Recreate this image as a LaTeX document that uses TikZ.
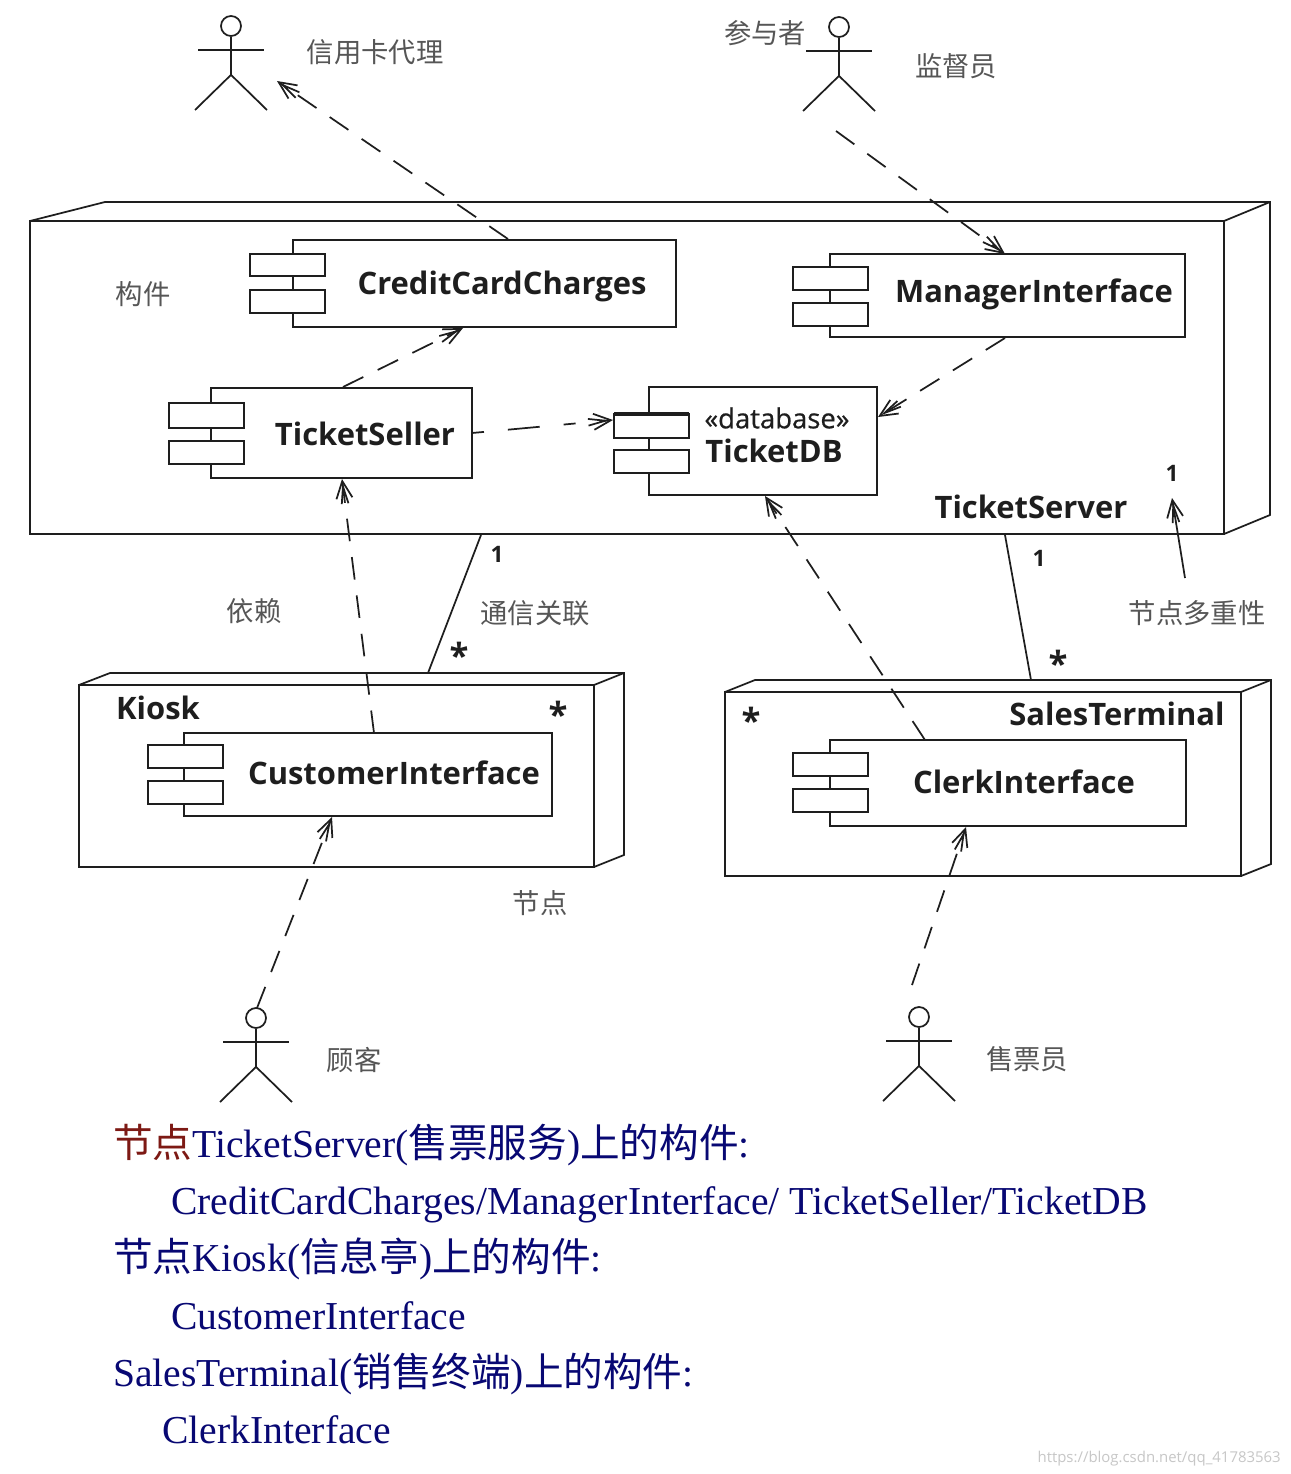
\documentclass[tikz,border=0pt]{standalone}
\usepackage{fontspec}
\setmainfont{Liberation Serif}
\setsansfont{Open Sans}
\newfontfamily\cjk{Noto Sans CJK SC}
\newfontfamily\stereofont[FakeBold=0.6]{Open Sans}
\usetikzlibrary{arrows.meta}
\definecolor{navy}{RGB}{8,8,115}
\definecolor{darkred}{RGB}{125,25,20}
\definecolor{ink}{RGB}{30,30,30}
\tikzset{
  x=0.75pt,y=-0.75pt,
  edge/.style={draw=ink,line width=1.3pt},
  comp/.style={draw=ink,line width=1.3pt,fill=white},
  barbs/.style={-{Straight Barb[length=13pt,width=5pt,sep=-13pt]Straight Barb[length=13pt,width=12pt]}},
  dep/.style={draw=ink,line width=1.3pt,dash pattern=on 17pt off 12pt,barbs},
  assoc/.style={draw=ink,line width=1.3pt},
  ann/.style={font=\cjk\fontsize{20.5}{23}\selectfont,text=ink!75,inner sep=0pt},
  title/.style={font=\sffamily\bfseries\fontsize{23.2}{26}\selectfont,text=ink,inner sep=0pt},
  stereo/.style={font=\stereofont\fontsize{20.6}{23}\selectfont,text=ink,inner sep=0pt},
  mult/.style={font=\sffamily\bfseries\fontsize{17}{19}\selectfont,text=ink,inner sep=0pt},
  star/.style={font=\sffamily\bfseries\fontsize{26}{26}\selectfont,text=ink,inner sep=0pt},
  body/.style={anchor=base west,inner sep=0pt,font=\fontsize{29.7}{32}\selectfont,text=navy},
}
\newcommand{\Cj}[1]{{\cjk\fontsize{29.7}{32}\selectfont #1}}
\newcommand{\actor}[3]{%
  \node[draw=ink,circle,line width=1.3pt,minimum size=15pt,inner sep=0pt] (#3) at (#1,#2) {};
  \draw[edge] (#3.south) -- ++(0,38) coordinate (#3w);
  \draw[edge] (#1-33,#2+24) -- (#1+33,#2+24);
  \draw[edge] (#1-36,#2+84) -- (#3w) -- (#1+36,#2+84);
}
\newcommand{\nodebox}[7]{% x1 y1 x2 y2 leftdepth rightdepth depthy
  \draw[edge] (#1,#2) -- (#1+#5,#2-#7) -- (#3+#6,#2-#7) -- (#3+#6,#4-#7) -- (#3,#4);
  \draw[edge] (#3,#2) -- (#3+#6,#2-#7);
  \draw[edge] (#1,#2) rectangle (#3,#4);
}
\begin{document}
\begin{tikzpicture}
\useasboundingbox (0,0) rectangle (1290,1474);
\fill[white] (0,0) rectangle (1290,1474);
% nodes
\nodebox{30}{221}{1224}{534}{75}{46}{19}
\nodebox{79}{685}{594}{867}{31}{30}{12}
\nodebox{725}{692}{1241}{876}{30}{30}{12}
% components
\draw[comp] (293,240) rectangle (676,327);
\draw[comp] (250,254) rectangle (325,276);
\draw[comp] (250,290) rectangle (325,313);
\node[title] (ccc) at (502,286) {CreditCardCharges};
\draw[comp] (830,254) rectangle (1185,337);
\draw[comp] (793,267) rectangle (868,290);
\draw[comp] (793,303) rectangle (868,326);
\node[title] (mi) at (1034,294) {ManagerInterface};
\draw[comp] (211,388) rectangle (472,478);
\draw[comp] (169,403) rectangle (244,428);
\draw[comp] (169,441) rectangle (244,464);
\node[title] (ts) at (365,434) {TicketSeller};
\draw[comp] (649,387) rectangle (877,495);
\draw[comp] (614,414) rectangle (689,438);
\draw[comp] (614,450) rectangle (689,473);
\draw[draw=ink,line width=2.6pt] (614,414) -- (689,414);
\node[stereo] (dbs) at (777,418) {«database»};
\node[title] (db) at (774,451) {TicketDB};
\draw[comp] (184,733) rectangle (552,816);
\draw[comp] (148,745) rectangle (223,768);
\draw[comp] (148,781) rectangle (223,804);
\node[title] (ci) at (394,773) {CustomerInterface};
\draw[comp] (830,740) rectangle (1186,826);
\draw[comp] (793,753) rectangle (868,776);
\draw[comp] (793,789) rectangle (868,812);
\node[title] (cli) at (1024,782) {ClerkInterface};
\node[title] (tsv) at (1031,507) {TicketServer};
\node[title] (ki) at (158,708) {Kiosk};
\node[title] (st) at (1117,714) {SalesTerminal};
% actors
\actor{231}{26}{a1}
\actor{839}{27}{a2}
\actor{256}{1018}{a3}
\actor{919}{1017}{a4}
% dependencies
\coordinate (d1s) at (508,239); \coordinate (d1e) at (277,81);
\draw[dep] (d1s) -- (d1e);
\coordinate (d2s) at (836,131); \coordinate (d2e) at (1005,254);
\draw[dep] (d2s) -- (d2e);
\coordinate (d3s) at (343,387); \coordinate (d3e) at (463,328);
\draw[dep] (d3s) -- (d3e);
\coordinate (d4s) at (1005,338); \coordinate (d4e) at (878,417);
\draw[dep] (d4s) -- (d4e);
\coordinate (d5s) at (472,433); \coordinate (d5e) at (613,420);
\draw[dep,dash pattern=on 9pt off 18pt on 24pt off 18pt] (d5s) -- (d5e);
\coordinate (d6s) at (374,733); \coordinate (d6e) at (342,479);
\draw[dep] (d6s) -- (d6e);
\coordinate (d7s) at (925,740); \coordinate (d7e) at (765,496);
\draw[dep] (d7s) -- (d7e);
\coordinate (d8s) at (257,1008); \coordinate (d8e) at (332,817);
\draw[dep] (d8s) -- (d8e);
\coordinate (d9s) at (912,985); \coordinate (d9e) at (966,827);
\draw[dep] (d9s) -- (d9e);
% associations
\coordinate (as1) at (481,535); \coordinate (ae1) at (428,673);
\draw[assoc] (as1) -- (ae1);
\coordinate (as2) at (1005,535); \coordinate (ae2) at (1031,680);
\draw[assoc] (as2) -- (ae2);
\coordinate (as3) at (1185,578); \coordinate (ae3) at (1172,498);
\draw[edge,barbs] (as3) -- (ae3);
% multiplicities
\node[mult] (m1) at (497,554) {1};
\node[mult] (m2) at (1039,558) {1};
\node[mult] (m3) at (1172,473) {1};
\node[star] (m4) at (459,655) {*};
\node[star] (m5) at (558,714) {*};
\node[star] (m6) at (1058,663) {*};
\node[star] (m7) at (751,720) {*};
% annotations
\node[ann] (t1) at (375,52) {信用卡代理};
\node[ann] (t2) at (765,33) {参与者};
\node[ann] (t3) at (956,66) {监督员};
\node[ann] (t4) at (143,294) {构件};
\node[ann] (t5) at (254,611) {依赖};
\node[ann] (t6) at (535,613) {通信关联};
\node[ann] (t7) at (1197,613) {节点多重性};
\node[ann] (t8) at (540,903) {节点};
\node[ann] (t9) at (354,1060) {顾客};
\node[ann] (t10) at (1027,1059) {售票员};
% body
\node[body] (b1) at (113,1157) {\textcolor{darkred}{\Cj{节点}}TicketServer(\Cj{售票服务})\Cj{上的构件}:};
\node[body] (b2) at (171,1214) {CreditCardCharges/ManagerInterface/ TicketSeller/TicketDB};
\node[body] (b3) at (113,1271) {\Cj{节点}Kiosk(\Cj{信息亭})\Cj{上的构件}:};
\node[body] (b4) at (171,1329) {CustomerInterface};
\node[body] (b5) at (113,1386) {SalesTerminal(\Cj{销售终端})\Cj{上的构件}:};
\node[body] (b6) at (162,1443) {ClerkInterface};
\node[anchor=base east,inner sep=0pt,font=\sffamily\fontsize{11.2}{14}\selectfont,text=black!22] (wm) at (1281,1462) {https://blog.csdn.net/qq\_41783563};
\end{tikzpicture}
\end{document}
